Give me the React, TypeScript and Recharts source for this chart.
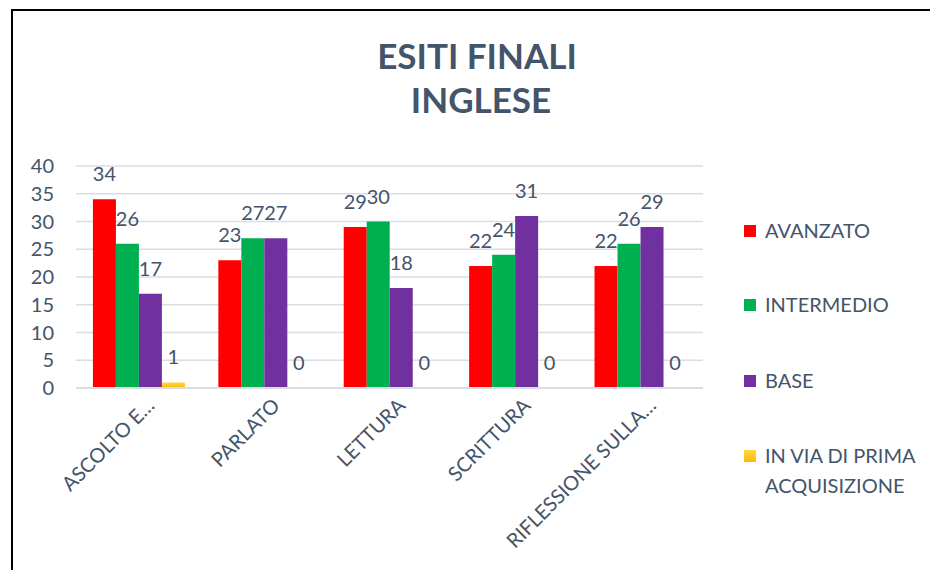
import React from 'react';
import { BarChart, Bar, XAxis, YAxis, CartesianGrid, LabelList } from 'recharts';

const categories = ['ASCOLTO E…', 'PARLATO', 'LETTURA', 'SCRITTURA', 'RIFLESSIONE SULLA…'];
const avanzato = [34, 23, 29, 22, 22];
const intermedio = [26, 27, 30, 24, 26];
const base = [17, 27, 18, 31, 29];
const primaAcquisizione = [1, 0, 0, 0, 0];
const yTicks = [0, 5, 10, 15, 20, 25, 30, 35, 40];

const data = categories.map((name, i) => ({
  name,
  avanzato: avanzato[i],
  intermedio: intermedio[i],
  base: base[i],
  prima: primaAcquisizione[i],
}));

const TEXT = '#44546A';
const GRID = '#D9DEE4';
const FONT = 'Lato, "Open Sans", sans-serif';

const series = [
  { key: 'avanzato', color: '#FF0000', lines: ['AVANZATO'], y: 231 },
  { key: 'intermedio', color: '#00B050', lines: ['INTERMEDIO'], y: 305 },
  { key: 'base', color: '#7030A0', lines: ['BASE'], y: 381 },
  { key: 'prima', color: 'url(#gold)', lines: ['IN VIA DI PRIMA', 'ACQUISIZIONE'], y: 456 },
];

const XTick = (props: any) => {
  const { x, y, payload } = props;
  return (
    <g transform={`translate(${x + 17},${y + 19})`}>
      <text transform="rotate(-45)" textAnchor="end" fill={TEXT} fontSize={20} fontFamily={FONT}>
        {payload.value}
      </text>
    </g>
  );
};

const labelStyle = { fill: TEXT, fontSize: 20, fontFamily: FONT };

export default function App() {
  return (
    <div style={{ position: 'absolute', left: 0, top: 0, width: 930, height: 570, background: '#fff', fontFamily: FONT }}>
      <div style={{ position: 'absolute', left: 12, top: 9, width: 918, height: 2, background: '#000' }} />
      <div style={{ position: 'absolute', left: 11, top: 9, width: 2, height: 561, background: '#000' }} />
      <div style={{ position: 'absolute', left: 0, top: 0 }}>
        <BarChart
          width={930}
          height={570}
          data={data}
          margin={{ top: 166, right: 227, bottom: 0, left: 0 }}
          barCategoryGap="13.5%"
          barGap={0}
        >
          <defs>
            <linearGradient id="gold" x1="0" y1="0" x2="0" y2="1">
              <stop offset="0%" stopColor="#FFD54F" />
              <stop offset="100%" stopColor="#FFB900" />
            </linearGradient>
          </defs>
          <CartesianGrid vertical={false} stroke={GRID} strokeWidth={1.5} />
          <XAxis
            dataKey="name"
            height={182}
            interval={0}
            tickLine={false}
            tickSize={0}
            tickMargin={0}
            axisLine={{ stroke: GRID, strokeWidth: 2 }}
            tick={<XTick />}
          />
          <YAxis
            width={76}
            domain={[0, 40]}
            ticks={yTicks}
            interval={0}
            axisLine={false}
            tickLine={false}
            tickSize={0}
            tickMargin={22}
            tick={{ fill: TEXT, fontSize: 20, fontFamily: FONT }}
          />
          <Bar dataKey="avanzato" name="AVANZATO" fill="#FF0000" isAnimationActive={false}>
            <LabelList dataKey="avanzato" position="top" offset={18} {...labelStyle} />
          </Bar>
          <Bar dataKey="intermedio" name="INTERMEDIO" fill="#00B050" isAnimationActive={false}>
            <LabelList dataKey="intermedio" position="top" offset={18} {...labelStyle} />
          </Bar>
          <Bar dataKey="base" name="BASE" fill="#7030A0" isAnimationActive={false}>
            <LabelList dataKey="base" position="top" offset={18} {...labelStyle} />
          </Bar>
          <Bar
            dataKey="prima"
            name="IN VIA DI PRIMA ACQUISIZIONE"
            fill="url(#gold)"
            minPointSize={0.01}
            isAnimationActive={false}
          >
            <LabelList dataKey="prima" position="top" offset={18} {...labelStyle} />
          </Bar>
        </BarChart>
      </div>
      <svg width={930} height={570} style={{ position: 'absolute', left: 0, top: 0, pointerEvents: 'none' }}>
        <text x={477} y={69} textAnchor="middle" fill={TEXT} fontSize={35} fontWeight="bold" fontFamily={FONT}>
          ESITI FINALI
        </text>
        <text x={481} y={113} textAnchor="middle" fill={TEXT} fontSize={35} fontWeight="bold" fontFamily={FONT}>
          INGLESE
        </text>
        {series.map((s) => (
          <g key={s.key}>
            <rect x={744} y={s.y - 6} width={12} height={12} fill={s.color} />
            {s.lines.map((line, j) => (
              <text key={j} x={765} y={s.y + 7 + j * 30} fill={TEXT} fontSize={20} fontFamily={FONT}>
                {line}
              </text>
            ))}
          </g>
        ))}
      </svg>
    </div>
  );
}
